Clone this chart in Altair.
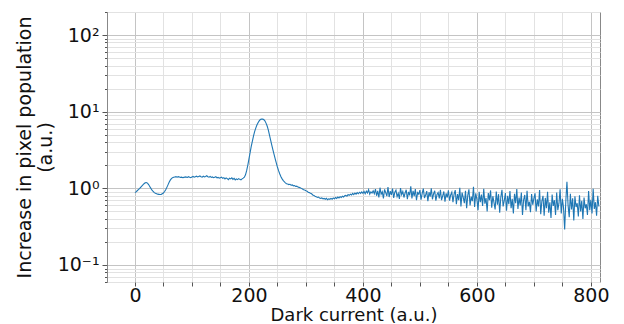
import altair as alt
import pandas as pd

X_START = 0
X_STEP = 2

seg_a = [0.88, 0.90, 0.93, 0.96, 0.99, 1.03, 1.07, 1.11, 1.15, 1.18, 1.19, 1.17, 1.12, 1.06, 1.00, 0.95,
         0.91, 0.88, 0.86, 0.85, 0.84, 0.835, 0.83, 0.835, 0.85, 0.87, 0.91, 0.96, 1.03, 1.11, 1.20,
         1.28, 1.34, 1.38, 1.40, 1.41, 1.42, 1.40, 1.42, 1.41, 1.39]
seg_plateau = [1.40, 1.38, 1.39, 1.41, 1.40, 1.39, 1.42, 1.40, 1.38, 1.41, 1.43, 1.40, 1.42, 1.44, 1.41,
               1.43, 1.45, 1.42, 1.40, 1.44, 1.41, 1.43, 1.46, 1.42, 1.40, 1.43, 1.39, 1.41, 1.38, 1.40,
               1.42, 1.37, 1.39, 1.36, 1.38, 1.40, 1.35, 1.38, 1.33, 1.37, 1.34, 1.30, 1.36, 1.33, 1.37,
               1.31, 1.35, 1.29, 1.33, 1.30, 1.34, 1.31, 1.29, 1.33, 1.36]
seg_peak = [1.40, 1.50, 1.70, 2.0, 2.4, 2.9, 3.5, 4.1, 4.8, 5.5, 6.1, 6.7, 7.2, 7.6, 7.9, 8.0, 8.0, 7.9,
            7.6, 7.1, 6.5, 5.8, 5.0, 4.3, 3.7, 3.2, 2.8, 2.45, 2.15, 1.9, 1.7, 1.55, 1.43, 1.34, 1.27,
            1.22, 1.18, 1.15, 1.14, 1.12, 1.13, 1.10, 1.11, 1.08, 1.09, 1.06, 1.07, 1.04, 1.03, 1.02]
seg_dip = [1.00, 0.98, 0.96, 0.95, 0.93, 0.92, 0.89, 0.88, 0.86, 0.85, 0.82, 0.81, 0.79, 0.78, 0.76,
           0.77, 0.75, 0.74, 0.75, 0.73, 0.74, 0.72, 0.74, 0.71, 0.73, 0.72, 0.74, 0.72, 0.75, 0.73,
           0.76, 0.74, 0.77, 0.75, 0.78, 0.76, 0.79, 0.77, 0.80, 0.81, 0.79, 0.83, 0.81, 0.84, 0.82,
           0.86, 0.83, 0.87, 0.84, 0.88, 0.85, 0.89, 0.86, 0.90, 0.86, 0.91, 0.85, 0.92, 0.87, 0.96,
           0.84, 0.90, 0.87, 0.93, 0.85]
seg_noise1 = [0.98, 0.80, 0.93, 0.76, 1.02, 0.84, 0.90, 0.74, 0.97, 0.88,
              0.79, 1.04, 0.77, 0.92, 0.82, 0.99, 0.75, 0.89, 0.95, 0.78,
              0.86, 0.73, 1.01, 0.83, 0.91, 0.76, 0.87, 0.96, 0.72, 0.90,
              0.81, 1.06, 0.74, 0.93, 0.79, 0.98, 0.70, 0.88, 0.84, 0.95,
              0.71, 0.86, 0.99, 0.75, 0.82, 0.92, 0.68, 0.89, 0.78, 1.00,
              0.72, 0.85, 0.93, 0.69, 0.83, 0.88, 0.74, 0.96, 0.70, 0.80,
              0.91, 0.67, 0.86, 0.76, 0.94, 0.69, 0.82, 0.89, 0.66, 0.84]
seg_noise2 = [0.95, 0.62, 0.84, 0.70, 1.02, 0.58, 0.88, 0.76, 0.64, 0.93,
              0.55, 0.81, 0.97, 0.60, 0.78, 0.68, 1.05, 0.57, 0.86, 0.72,
              0.52, 0.90, 0.66, 0.83, 0.59, 0.99, 0.63, 0.75, 0.50, 0.87,
              0.70, 0.94, 0.56, 0.79, 0.65, 0.53, 0.91, 0.61, 0.84, 0.48,
              0.77, 0.96, 0.58, 0.69, 0.87, 0.51, 0.80, 0.62, 0.92, 0.55,
              0.73, 0.47, 0.85, 0.64, 0.98, 0.54, 0.76, 0.60, 0.88, 0.45,
              0.71, 0.82, 0.52, 0.93, 0.58, 0.67, 0.49, 0.84, 0.61, 0.74]
seg_noise3 = [0.86, 0.50, 0.72, 0.58, 0.95, 0.46, 0.68, 0.80, 0.44, 0.75,
              0.55, 0.90, 0.48, 0.66, 0.41, 0.83, 0.59, 0.70, 0.45, 0.88,
              0.52, 0.64, 0.97, 0.47, 0.73, 0.56, 0.29, 0.68, 1.22, 0.60,
              0.42, 0.85, 0.53, 0.74, 0.38, 0.79, 0.57, 0.64, 0.43, 0.81,
              0.50, 0.69, 0.40, 0.76, 0.55, 0.62, 0.45, 0.92, 0.52, 0.71,
              0.47, 0.99, 0.54, 0.66, 0.44, 0.80, 0.58]

y_values = seg_a + seg_plateau + seg_peak + seg_dip + seg_noise1 + seg_noise2 + seg_noise3
x_values = [X_START + X_STEP * i for i in range(len(y_values))]

x_grid = [0, 50, 100, 150, 200, 250, 300, 350, 400, 450, 500, 550, 600, 650, 700, 750, 800]
y_grid = [0.06, 0.07, 0.08, 0.09, 0.1, 0.2, 0.3, 0.4, 0.5, 0.6, 0.7, 0.8, 0.9,
          1, 2, 3, 4, 5, 6, 7, 8, 9, 10, 20, 30, 40, 50, 60, 70, 80, 90, 100, 200]

df = pd.DataFrame({"x": x_values, "y": y_values})

major_y = "abs(log(datum.value)/LN10 - round(log(datum.value)/LN10)) < 1e-6"
major_x = "datum.value % 200 == 0"

FONT = "DejaVu Sans"

chart = alt.Chart(df).mark_line(color="#1f77b4", strokeWidth=1.1, clip=True).encode(
    x=alt.X("x:Q",
            scale=alt.Scale(domain=[-49, 816], nice=False, zero=False),
            axis=alt.Axis(values=x_grid, title="Dark current (a.u.)",
                          labelExpr="datum.value % 200 == 0 ? datum.label : ''",
                          grid=True,
                          gridColor={"condition": {"test": major_x, "value": "#c4c4c4"}, "value": "#e2e2e2"},
                          tickSize=4, tickColor="#555",
                          labelFontSize=19, titleFontSize=18, labelPadding=0, titlePadding=1,
                          titleFontWeight="normal",
                          labelColor="#111", titleColor="#111", labelFont=FONT, titleFont=FONT,
                          domain=False, labelFlush=False)),
    y=alt.Y("y:Q",
            scale=alt.Scale(type="log", domain=[0.06, 200], nice=False),
            axis=alt.Axis(values=y_grid,
                          title=["Increase in pixel population", "(a.u.)"],
                          labelExpr="datum.value == 100 ? '10²' : datum.value == 10 ? '10¹' : datum.value == 1 ? '10⁰' : datum.value == 0.1 ? '10⁻¹' : ''",
                          grid=True,
                          gridColor={"condition": {"test": major_y, "value": "#c4c4c4"}, "value": "#e2e2e2"},
                          tickSize={"condition": {"test": major_y, "value": 5}, "value": 2.5},
                          tickColor="#555",
                          labelFontSize=19, titleFontSize=19, labelPadding=3, titlePadding=2,
                          titleFontWeight="normal",
                          labelColor="#111", titleColor="#111", labelFont=FONT, titleFont=FONT,
                          domain=False, labelFlush=False)),
).properties(
    width=493, height=270,
    autosize=alt.AutoSizeParams(type="none"),
    padding={"left": 99, "top": 4, "right": 16, "bottom": 42},
).configure_view(stroke="#888", strokeWidth=1)

chart.save("out.html", embed_options={"renderer": "svg", "actions": False})
